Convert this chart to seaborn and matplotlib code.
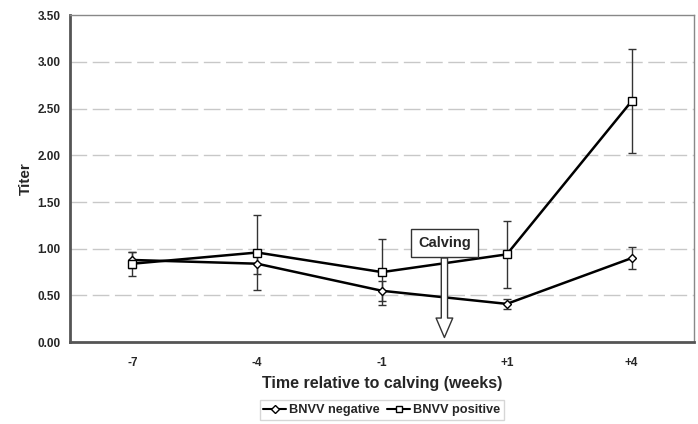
import pandas as pd
import numpy as np
import matplotlib.pyplot as plt
import seaborn as sns

# Data
weeks = ['-7', '-4', '-1', '+1', '+4']
neg_mean = [0.88, 0.84, 0.55, 0.41, 0.90]
neg_err = [0.09, 0.11, 0.11, 0.05, 0.12]
pos_mean = [0.84, 0.96, 0.75, 0.94, 2.58]
pos_err = [0.13, 0.40, 0.35, 0.36, 0.56]
series = ['BNVV negative', 'BNVV positive']

data = pd.DataFrame({
    'pos': list(range(len(weeks))) * 2,
    'titer': neg_mean + pos_mean,
    'err': neg_err + pos_err,
    'group': [series[0]] * len(weeks) + [series[1]] * len(weeks),
})

sns.set_style('white')
plt.rcParams['font.family'] = ['Liberation Sans', 'DejaVu Sans']
plt.rcParams['font.weight'] = 'bold'

fig = plt.figure(figsize=(6.98, 4.24), dpi=100)
ax = fig.add_axes([0.1003, 0.193, 0.894, 0.771])

# gridlines
for yv in np.arange(0.5, 3.01, 0.5):
    ax.axhline(yv, color='#c8c8c8', lw=1, ls=(0, (12, 4)), zorder=0)

# error bars first
for name in series:
    sub = data[data['group'] == name]
    ax.errorbar(sub['pos'], sub['titer'], yerr=sub['err'], fmt='none',
                ecolor='#333333', elinewidth=1, capsize=3, capthick=1, zorder=2)

sns.lineplot(data=data, x='pos', y='titer', hue='group', style='group',
             palette=['black', 'black'], markers={series[0]: 'D', series[1]: 's'},
             dashes=False, lw=1.8, markersize=6, markerfacecolor='white',
             markeredgecolor='black', markeredgewidth=1, ax=ax, zorder=3,
             legend=False)
for ln in ax.lines:
    if ln.get_marker() == 'D':
        ln.set_markersize(4.5)

# calving arrow
ax.annotate('Calving', xy=(2.5, 0.05), xytext=(2.5, 1.06),
            ha='center', va='center', fontsize=10.5, fontweight='bold',
            bbox=dict(boxstyle='square,pad=0.5', fc='white', ec='#333333', lw=1),
            arrowprops=dict(arrowstyle='simple,head_length=14,head_width=12,tail_width=4.5',
                            mutation_scale=1, fc='white', ec='#333333', lw=1,
                            shrinkA=0, shrinkB=0),
            zorder=5)

ax.set_xlim(-0.5, len(weeks) - 0.5)
ax.set_ylim(0, 3.5)
ax.set_xticks(range(len(weeks)))
ax.set_xticklabels(weeks, fontsize=8.5, fontweight='bold')
ax.set_xticks(np.arange(0.5, len(weeks) - 0.5, 1), minor=True)
ax.tick_params(axis='x', which='major', length=0, pad=11)
ax.tick_params(axis='x', which='minor', length=3, color='#cccccc', direction='out')
ax.set_yticks(np.arange(0, 3.51, 0.5))
ax.set_yticklabels([f'{v:.2f}' for v in np.arange(0, 3.51, 0.5)], fontsize=8.5, fontweight='bold')
ax.tick_params(axis='y', length=0, pad=7)

ax.set_ylabel('Titer', fontsize=11, fontweight='bold', labelpad=3)
ax.set_xlabel('Time relative to calving (weeks)', fontsize=11.5, fontweight='bold', labelpad=5)

for side in ['left', 'bottom']:
    ax.spines[side].set_color('#555555')
    ax.spines[side].set_linewidth(2)
for side in ['top', 'right']:
    ax.spines[side].set_color('#888888')
    ax.spines[side].set_linewidth(1)
    ax.spines[side].set_visible(True)

# legend
handles = [plt.Line2D([], [], color='black', lw=1.5, marker='D', markersize=4,
                      markerfacecolor='white', markeredgecolor='black'),
           plt.Line2D([], [], color='black', lw=1.5, marker='s', markersize=5,
                      markerfacecolor='white', markeredgecolor='black')]
fig.legend(handles, series, loc='center', bbox_to_anchor=(0.547, 0.033), ncol=2,
           frameon=True, fancybox=False, edgecolor='#cccccc',
           handlelength=1.8, handletextpad=0.2, columnspacing=0.6, borderpad=0.3,
           prop={'weight': 'bold', 'size': 9.2})

fig.savefig('out.png', dpi=100)
